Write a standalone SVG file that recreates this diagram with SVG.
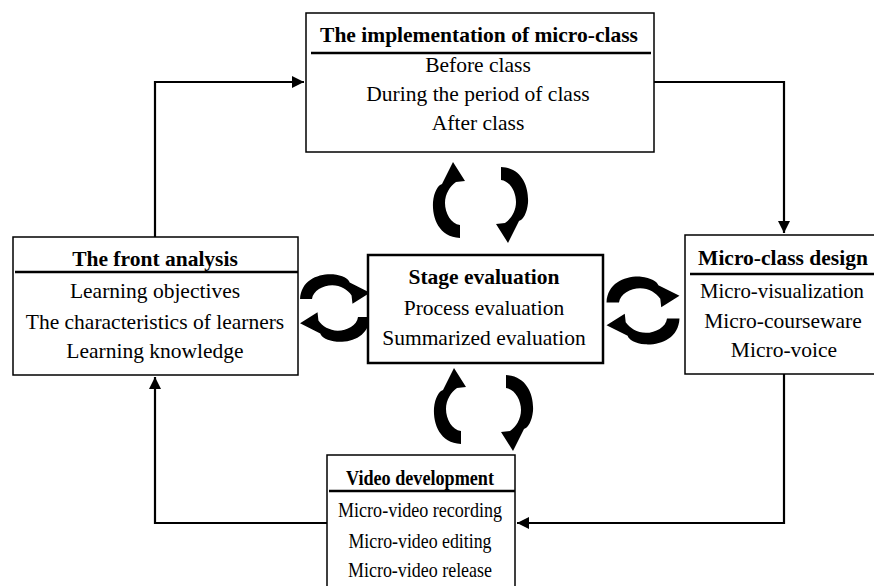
<svg xmlns="http://www.w3.org/2000/svg" width="874" height="586" viewBox="0 0 874 586">
<style>
.box{fill:#fff;stroke:#000;stroke-width:1.5}
.sbox{fill:#fff;stroke:#000;stroke-width:2.5}
.rule{stroke:#000;stroke-width:2.5}
.con{fill:none;stroke:#000;stroke-width:2.2}
</style>
<defs>
<marker id="ah" viewBox="0 0 10 10" refX="10" refY="5" markerWidth="5.5" markerHeight="5.5" orient="auto" markerUnits="strokeWidth">
<path d="M0,0 L10,5 L0,10 z" fill="#000"/>
</marker>
<path id="carrow" d="M 11 38 C -10 37 -17 18 -16 2 C -15 -8 -11 -15 -7 -16 L 4 -38 L 16 -19 L 7 -18 C 1 -14 -4 -6 -4 3 C -4 13 2 24 11 25 Z" fill="#000"/>
</defs>

<g id="connectors">
<path class="con" d="M155,237 V82 H304" marker-end="url(#ah)"/>
<path class="con" d="M654,82 H784 V233" marker-end="url(#ah)"/>
<path class="con" d="M784,374 V523 H517" marker-end="url(#ah)"/>
<path class="con" d="M327,523 H155 V377" marker-end="url(#ah)"/>
</g>

<g id="cycle-arrows">
<use href="#carrow" transform="translate(449,200)"/>
<use href="#carrow" transform="translate(512,205) rotate(180)"/>
<use href="#carrow" transform="translate(450,406)"/>
<use href="#carrow" transform="translate(517,413) rotate(180)"/>
<use href="#carrow" transform="translate(335,289) rotate(90) scale(0.92)"/>
<use href="#carrow" transform="translate(335,327) rotate(-90) scale(0.92)"/>
<use href="#carrow" transform="translate(643,292) rotate(90) scale(0.96)"/>
<use href="#carrow" transform="translate(643,329) rotate(-90) scale(0.96)"/>
</g>

<g id="implementation">
<rect class="box" x="306" y="13" width="348" height="139"/>
<text x="479" y="42" font-family="Liberation Serif" font-size="21.5" font-weight="bold" text-anchor="middle">The implementation of micro-class</text>
<line class="rule" x1="311" y1="53" x2="651" y2="53"/>
<text x="478" y="72" font-family="Liberation Serif" font-size="21.5" text-anchor="middle">Before class</text>
<text x="478" y="101" font-family="Liberation Serif" font-size="21.5" text-anchor="middle">During the period of class</text>
<text x="478" y="130" font-family="Liberation Serif" font-size="21.5" text-anchor="middle">After class</text>
</g>

<g id="front-analysis">
<rect class="box" x="13" y="237" width="285" height="138"/>
<text x="155" y="266" font-family="Liberation Serif" font-size="21.5" font-weight="bold" text-anchor="middle">The front analysis</text>
<line class="rule" x1="15" y1="272" x2="298" y2="272"/>
<text x="155" y="298" font-family="Liberation Serif" font-size="21.5" text-anchor="middle">Learning objectives</text>
<text x="155" y="329" font-family="Liberation Serif" font-size="21.5" text-anchor="middle">The characteristics of learners</text>
<text x="155" y="358" font-family="Liberation Serif" font-size="21.5" text-anchor="middle">Learning knowledge</text>
</g>

<g id="stage-evaluation">
<rect class="sbox" x="368" y="255" width="235" height="108"/>
<text x="484" y="284" font-family="Liberation Serif" font-size="21.5" font-weight="bold" text-anchor="middle">Stage evaluation</text>
<text x="484" y="315" font-family="Liberation Serif" font-size="21.5" text-anchor="middle">Process evaluation</text>
<text x="484" y="345" font-family="Liberation Serif" font-size="21.5" text-anchor="middle">Summarized evaluation</text>
</g>

<g id="micro-class-design">
<rect class="box" x="685" y="235" width="200" height="139"/>
<text x="783" y="265" font-family="Liberation Serif" font-size="21.5" font-weight="bold" text-anchor="middle">Micro-class design</text>
<line class="rule" x1="690" y1="274" x2="880" y2="274"/>
<text x="782" y="298" font-family="Liberation Serif" font-size="21.5" text-anchor="middle" textLength="164" lengthAdjust="spacingAndGlyphs">Micro-visualization</text>
<text x="783" y="328" font-family="Liberation Serif" font-size="21.5" text-anchor="middle">Micro-courseware</text>
<text x="784" y="357" font-family="Liberation Serif" font-size="21.5" text-anchor="middle">Micro-voice</text>
</g>

<g id="video-development">
<rect class="box" x="327" y="455" width="188" height="140"/>
<text x="420" y="485" font-family="Liberation Serif" font-size="21.5" font-weight="bold" text-anchor="middle" textLength="148" lengthAdjust="spacingAndGlyphs">Video development</text>
<line class="rule" x1="329" y1="491" x2="515" y2="491"/>
<text x="420" y="517" font-family="Liberation Serif" font-size="21.5" text-anchor="middle" textLength="164" lengthAdjust="spacingAndGlyphs">Micro-video recording</text>
<text x="420" y="548" font-family="Liberation Serif" font-size="21.5" text-anchor="middle" textLength="143" lengthAdjust="spacingAndGlyphs">Micro-video editing</text>
<text x="420" y="577" font-family="Liberation Serif" font-size="21.5" text-anchor="middle" textLength="144" lengthAdjust="spacingAndGlyphs">Micro-video release</text>
</g>
</svg>
